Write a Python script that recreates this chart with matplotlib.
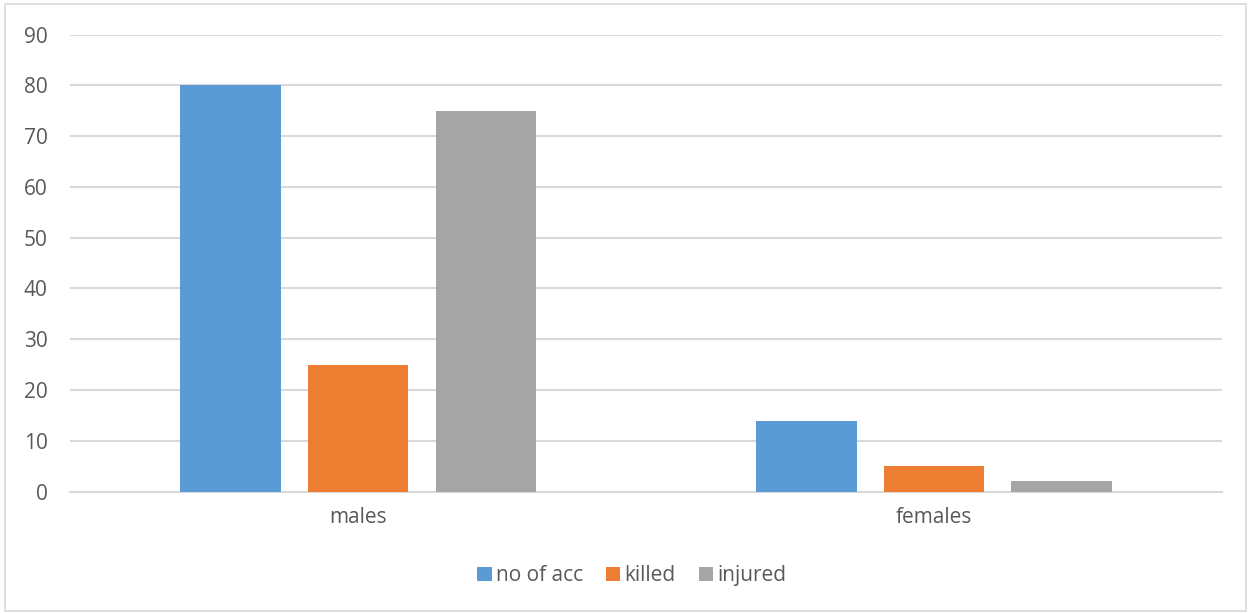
import numpy as np
import matplotlib
matplotlib.use("Agg")
from matplotlib import pyplot as plt
from matplotlib.patches import Rectangle

categories = ["males", "females"]
series_names = ["no of acc", "killed", "injured"]
no_of_acc = [80, 14]
killed = [25, 5]
injured = [75, 2]
colors = ["#5b9bd5", "#ed7d31", "#a5a5a5"]

plt.rcParams["font.family"] = ["Open Sans", "DejaVu Sans"]
text_color = "#595959"
grid_color = "#d9d9d9"

fig = plt.figure(figsize=(12.51, 6.13), dpi=100)
ax = fig.add_axes([0.056, 0.198, 0.9208, 0.7457])

x = np.arange(len(categories))
width = 0.175
step = 0.222
for i, (vals, name) in enumerate(zip([no_of_acc, killed, injured], series_names)):
    ax.bar(x + (i - 1) * step, vals, width, color=colors[i], label=name, zorder=3)

ax.set_xlim(-0.5, 1.5)
ax.set_ylim(0, 90)
ax.set_yticks(range(0, 91, 10))
ax.set_xticks(x)
ax.set_xticklabels(categories)
ax.tick_params(axis="both", length=0, labelsize=15, colors=text_color)
ax.tick_params(axis="y", pad=16)
ax.tick_params(axis="x", pad=11)
ax.grid(axis="y", color=grid_color, linewidth=1.5, zorder=0)
for side in ["top", "right", "left"]:
    ax.spines[side].set_visible(False)
ax.spines["bottom"].set_color(grid_color)
ax.spines["bottom"].set_linewidth(1.5)

leg = fig.legend(loc="center", bbox_to_anchor=(0.505, 0.061), ncol=3, frameon=False,
                 fontsize=15, handlelength=0.7, handleheight=0.7, handletextpad=0.2,
                 columnspacing=1.1, labelcolor=text_color)

# light outer frame around the chart
fig.patches.append(Rectangle((0.004, 0.003), 0.992, 0.99, transform=fig.transFigure,
                             fill=False, edgecolor=grid_color, linewidth=1.2))

fig.savefig("out.png", dpi=100)
